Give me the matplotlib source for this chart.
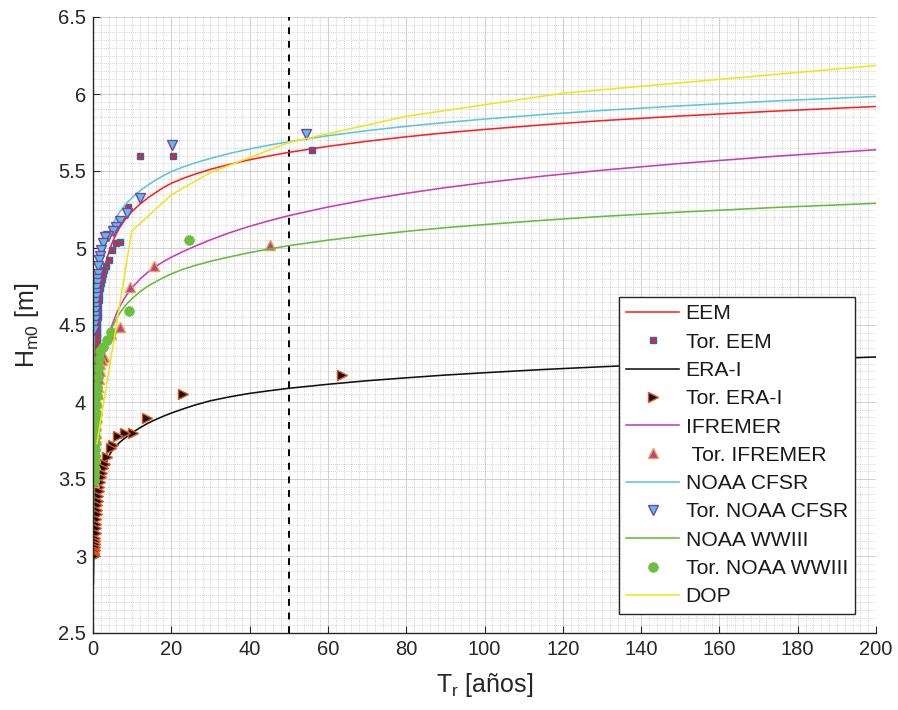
import matplotlib
matplotlib.use("Agg")
import matplotlib.pyplot as plt
from matplotlib.ticker import MultipleLocator

plt.rcParams['font.family'] = ['Liberation Sans', 'DejaVu Sans']
plt.rcParams['mathtext.fontset'] = 'custom'
plt.rcParams['mathtext.rm'] = 'Liberation Sans'
plt.rcParams['mathtext.it'] = 'Liberation Sans:italic'

# ---------------- data ----------------
# fitted curves (return period in years, Hm0 in m)
T_fit = [0.1, 0.2, 0.4, 0.7, 1, 1.5, 2, 2.5, 3, 4, 5, 6, 7, 8, 9, 10, 12, 14, 16, 18, 20, 23, 26, 30,
         35, 40, 45, 50, 60, 70, 80, 90, 100, 115, 130, 150, 175, 200]
H_eem = [3.95, 4.15, 4.33, 4.50, 4.60, 4.70, 4.77, 4.83, 4.88, 4.97, 5.04, 5.095, 5.14, 5.178, 5.21,
         5.238, 5.285, 5.325, 5.36, 5.393, 5.42, 5.452, 5.479, 5.511, 5.544, 5.573, 5.598, 5.621, 5.660,
         5.693, 5.722, 5.748, 5.770, 5.800, 5.827, 5.857, 5.890, 5.919]
H_era = [2.82, 3.02, 3.20, 3.32, 3.39, 3.455, 3.50, 3.545, 3.58, 3.648, 3.688, 3.717, 3.742, 3.763, 3.782,
         3.80, 3.833, 3.862, 3.886, 3.908, 3.928, 3.955, 3.980, 4.008, 4.034, 4.056, 4.073, 4.089, 4.115,
         4.138, 4.157, 4.175, 4.190, 4.211, 4.229, 4.250, 4.272, 4.292]
H_ifr = [3.29, 3.504, 3.718, 3.891, 4.001, 4.126, 4.215, 4.284, 4.345, 4.435, 4.51, 4.575, 4.628, 4.672,
         4.71, 4.743, 4.798, 4.843, 4.88, 4.912, 4.94, 4.977, 5.011, 5.053, 5.100, 5.141, 5.177, 5.210,
         5.266, 5.314, 5.355, 5.392, 5.424, 5.467, 5.505, 5.549, 5.597, 5.638]
H_cfsr = [4.10, 4.30, 4.48, 4.64, 4.73, 4.825, 4.895, 4.955, 5.005, 5.088, 5.15, 5.20, 5.24, 5.274, 5.302,
          5.327, 5.372, 5.408, 5.441, 5.47, 5.496, 5.526, 5.552, 5.582, 5.615, 5.643, 5.668, 5.690, 5.729,
          5.762, 5.790, 5.815, 5.837, 5.867, 5.893, 5.923, 5.956, 5.984]
H_ww3 = [3.20, 3.50, 3.78, 3.97, 4.08, 4.18, 4.25, 4.30, 4.35, 4.425, 4.488, 4.54, 4.583, 4.618, 4.647,
         4.672, 4.716, 4.752, 4.781, 4.808, 4.832, 4.862, 4.886, 4.914, 4.943, 4.970, 4.994, 5.015, 5.051,
         5.081, 5.108, 5.132, 5.152, 5.180, 5.205, 5.233, 5.264, 5.290]
T_dop = [1.0, 9.9, 20, 30, 50, 80, 100, 120, 200]
H_dop = [3.73, 5.11, 5.345, 5.49, 5.685, 5.855, 5.93, 6.005, 6.185]

# empirical return periods ("Tor.")
Tt_eem = [56.0, 20.4, 11.9, 8.9, 7.0, 5.8, 4.9, 4.0, 3.4, 2.9, 2.5, 2.2, 2.0, 1.8, 1.65, 1.5, 1.4, 1.3, 1.2,
          1.12, 1.05, 1.0, 0.95, 0.9, 0.85, 0.8, 0.75, 0.7, 0.65, 0.6, 0.55, 0.5, 0.45, 0.4]
Ht_eem = [5.636, 5.597, 5.597, 5.268, 5.041, 5.034, 4.99, 4.92, 4.88, 4.855, 4.83, 4.80, 4.77, 4.74, 4.70,
          4.66, 4.62, 4.58, 4.55, 4.52, 4.48, 4.45, 4.42, 4.39, 4.35, 4.32, 4.28, 4.25, 4.20, 4.15, 4.10,
          4.06, 4.02, 3.98]
Tt_era = [63.6, 23.0, 13.7, 10.3, 8.2, 6.5, 5.2, 4.5, 3.5, 3.0, 2.6, 2.3, 2.0, 1.8, 1.6, 1.45, 1.3, 1.2, 1.1,
          1.0, 0.92, 0.85, 0.78, 0.72, 0.66, 0.6, 0.55, 0.5, 0.45, 0.4, 0.35, 0.3, 0.25, 0.2, 0.15]
Ht_era = [4.175, 4.05, 3.894, 3.797, 3.80, 3.78, 3.72, 3.70, 3.645, 3.60, 3.57, 3.54, 3.51, 3.48, 3.45, 3.42,
          3.39, 3.36, 3.33, 3.30, 3.27, 3.24, 3.21, 3.18, 3.15, 3.12, 3.10, 3.08, 3.06, 3.04, 3.03, 3.02,
          3.01, 3.005, 3.0]
Tt_ifr = [45.2, 15.7, 9.45, 7.0, 4.5, 2.7, 2.3, 1.9, 1.7, 1.5, 1.35, 1.2, 1.1, 1.0, 0.9, 0.8, 0.72, 0.65,
          0.58, 0.52, 0.46, 0.4, 0.35, 0.3, 0.25]
Ht_ifr = [5.02, 4.885, 4.749, 4.489, 4.44, 4.29, 4.27, 4.25, 4.20, 4.15, 4.10, 4.05, 4.00, 3.95, 3.90, 3.85,
          3.80, 3.76, 3.72, 3.68, 3.64, 3.60, 3.56, 3.52, 3.48]
Tt_cfsr = [54.4, 20.2, 11.9, 8.8, 6.9, 6.0, 5.1, 3.8, 3.0, 2.5, 2.1, 1.8, 1.6, 1.4, 1.2, 1.05, 0.95, 0.85,
           0.75, 0.68, 0.6, 0.55, 0.5, 0.45, 0.4, 0.35, 0.3]
Ht_cfsr = [5.74, 5.67, 5.323, 5.229, 5.175, 5.138, 5.11, 5.078, 5.07, 5.03, 4.99, 4.95, 4.92, 4.88, 4.83,
           4.80, 4.77, 4.74, 4.71, 4.68, 4.65, 4.62, 4.59, 4.56, 4.53, 4.50, 4.47]
Tt_ww3 = [24.5, 9.1, 4.7, 3.6, 2.6, 1.9, 1.6, 1.4, 1.2, 1.05, 0.95, 0.85, 0.75, 0.68, 0.6, 0.55, 0.5, 0.45,
          0.4, 0.35, 0.3, 0.26, 0.22, 0.18]
Ht_ww3 = [5.05, 4.59, 4.456, 4.40, 4.36, 4.33, 4.28, 4.22, 4.16, 4.10, 4.04, 3.98, 3.92, 3.87, 3.82, 3.77,
          3.73, 3.69, 3.65, 3.61, 3.58, 3.55, 3.52, 3.49]

T_design = 50
x_ticks = list(range(0, 201, 20))
y_ticks = [2.5, 3, 3.5, 4, 4.5, 5, 5.5, 6, 6.5]
y_ticklabels = ['2.5', '3', '3.5', '4', '4.5', '5', '5.5', '6', '6.5']

# ---------------- figure ----------------
W, H = 898, 710
fig = plt.figure(figsize=(W / 100, H / 100), dpi=100)
ax = fig.add_axes([93 / W, 1 - 633 / H, (876 - 93) / W, (633 - 17) / H])

lw = 1.15
ax.plot(T_fit, H_eem, color='#ff1f1f', lw=lw, label='EEM')
ax.plot(Tt_eem, Ht_eem, ls='none', marker='s', ms=5, mfc='#e8202a', mec='#1f6fb8', mew=1.0, label='Tor. EEM')
ax.plot(T_fit, H_era, color='#111111', lw=lw, label='ERA-I')
ax.plot(Tt_era, Ht_era, ls='none', marker='>', ms=7, mfc='#111111', mec='#e0541c', mew=1.0, label='Tor. ERA-I')
ax.plot(T_fit, H_ifr, color='#c83cb4', lw=lw, label='IFREMER')
ax.plot(Tt_ifr, Ht_ifr, ls='none', marker='^', ms=7, mfc='#b8409e', mec='#eca040', mew=1.0, label=' Tor. IFREMER')
ax.plot(T_fit, H_cfsr, color='#5cc6dc', lw=lw, label='NOAA CFSR')
ax.plot(Tt_cfsr, Ht_cfsr, ls='none', marker='v', ms=7, mfc='#56c2e6', mec='#8040a0', mew=1.0, label='Tor. NOAA CFSR')
ax.plot(T_fit, H_ww3, color='#66bb3c', lw=lw, label='NOAA WWIII')
ax.plot(Tt_ww3, Ht_ww3, ls='none', marker='o', ms=7, mfc='#6cbf3c', mec='#6cbf3c', mew=0.5, label='Tor. NOAA WWIII')
ax.plot(T_dop, H_dop, color='#f2e41c', lw=lw, label='DOP')

ax.axvline(T_design, color='black', ls=(0, (3.5, 3.5)), lw=1.4, zorder=1.5)

ax.set_xlim(0, 200)
ax.set_ylim(2.5, 6.5)
ax.set_xticks(x_ticks)
ax.set_xticklabels([str(v) for v in x_ticks])
ax.set_yticks(y_ticks)
ax.set_yticklabels(y_ticklabels)
ax.xaxis.set_minor_locator(MultipleLocator(2))
ax.yaxis.set_minor_locator(MultipleLocator(0.05))
ax.grid(which='major', color='#d0d0d0', lw=0.7, ls='-')
ax.grid(which='minor', color='#c4c4c4', lw=0.6, ls=(0, (1, 1.5)))
ax.set_axisbelow(True)

for s in ['top', 'right']:
    ax.spines[s].set_visible(False)
for s in ['left', 'bottom']:
    ax.spines[s].set_color('#262626')
    ax.spines[s].set_linewidth(1.0)
ax.tick_params(which='major', direction='in', length=5, width=0.8, color='#262626',
               labelsize=14.5, pad=5, labelcolor='#262626')
ax.tick_params(which='minor', length=0)

ax.set_xlabel(r'T$_\mathrm{r}$ [años]', fontsize=18, color='#262626', labelpad=9)
ax.set_ylabel(r'H$_\mathrm{m0}$ [m]', fontsize=18, color='#262626', labelpad=12)

leg = ax.legend(loc='upper left', bbox_to_anchor=(619 / W, 1 - 297 / H), bbox_transform=fig.transFigure,
                fontsize=15.2, frameon=True, fancybox=False, framealpha=1, edgecolor='#262626',
                borderaxespad=0, handlelength=2.5, handletextpad=0.3, labelspacing=0.44, borderpad=0.35)
leg.get_frame().set_linewidth(1.0)
for t in leg.get_texts():
    t.set_color('#1a1a1a')

fig.savefig('out.png', dpi=100)
